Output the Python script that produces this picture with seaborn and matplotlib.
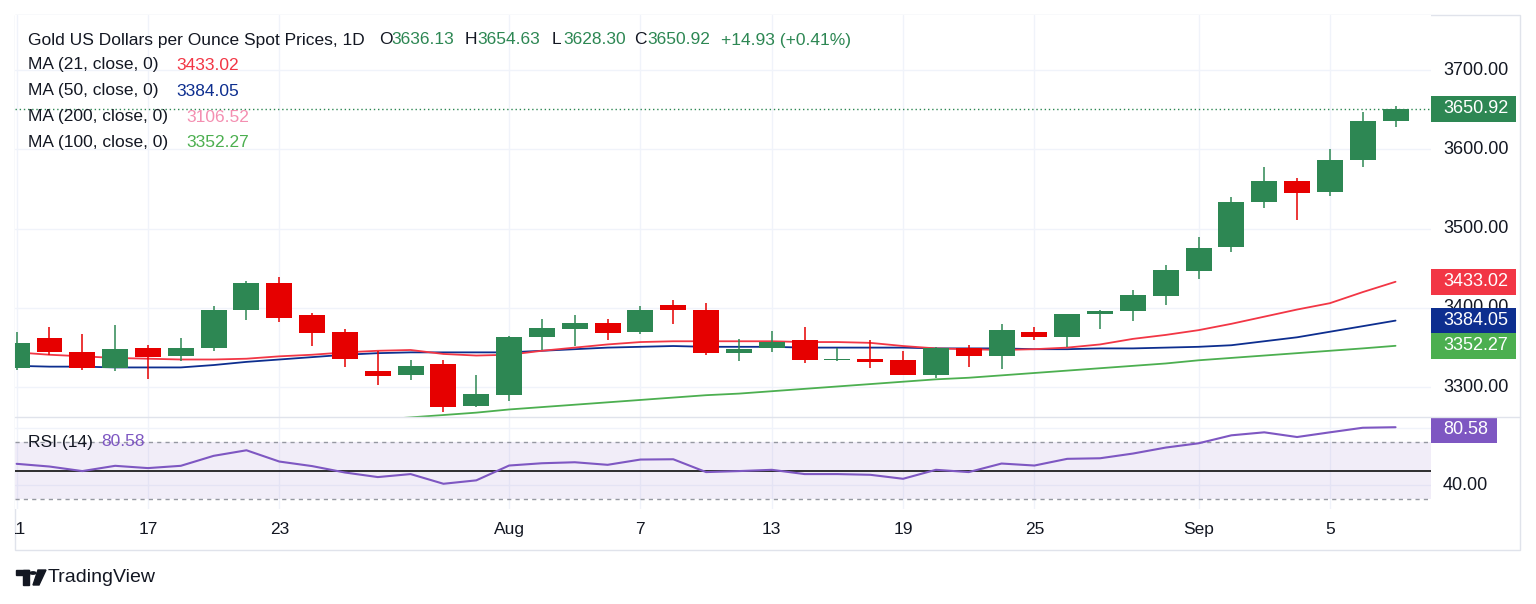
import matplotlib
matplotlib.use("Agg")
import matplotlib.pyplot as plt
import matplotlib.transforms as mtransforms
from matplotlib.patches import Rectangle, Circle, Polygon
from matplotlib.lines import Line2D
import numpy as np
import pandas as pd
import seaborn as sns

# daily candles, Jul 11 - Sep 9 2025 (trading days only)
dates = pd.bdate_range("2025-07-11", "2025-09-09")
opens = [3324, 3362, 3344, 3324, 3349, 3340, 3350, 3397, 3432, 3391, 3370, 3321, 3315, 3329, 3277,
         3290, 3364, 3374, 3381, 3370, 3404, 3398, 3343, 3349, 3359, 3334, 3336, 3334, 3316, 3350,
         3339, 3370, 3364, 3392, 3396, 3415, 3447, 3477, 3533, 3560, 3546, 3586, 3636.13]
highs = [3370, 3376, 3367, 3378, 3353, 3362, 3402, 3434, 3439, 3394, 3374, 3346, 3334, 3334, 3315,
         3365, 3386, 3391, 3386, 3403, 3410, 3406, 3361, 3371, 3376, 3349, 3359, 3346, 3351, 3353,
         3380, 3376, 3393, 3398, 3423, 3454, 3489, 3540, 3578, 3564, 3600, 3647, 3654.63]
lows = [3322, 3341, 3322, 3320, 3311, 3333, 3346, 3385, 3382, 3352, 3326, 3303, 3309, 3269, 3275,
        3283, 3347, 3352, 3359, 3367, 3380, 3341, 3333, 3344, 3331, 3333, 3324, 3315, 3312, 3326,
        3323, 3359, 3351, 3374, 3384, 3404, 3437, 3470, 3526, 3511, 3541, 3578, 3628.30]
closes = [3356, 3344, 3324, 3348, 3338, 3350, 3397, 3432, 3387, 3368, 3336, 3314, 3327, 3275, 3291,
          3364, 3375, 3381, 3369, 3397, 3398, 3343, 3348, 3357, 3335, 3336, 3332, 3316, 3349, 3339,
          3372, 3364, 3392, 3396, 3416, 3448, 3476, 3533, 3560, 3545, 3587, 3635.99, 3650.92]

ma21 = [3344, 3341, 3339, 3337, 3336, 3335, 3335, 3336, 3339, 3341, 3344, 3346, 3347, 3342, 3340,
        3341, 3346, 3350, 3354, 3357, 3358, 3358, 3358, 3358, 3357, 3357, 3356, 3352, 3349, 3348,
        3347, 3348, 3350, 3354, 3361, 3366, 3372, 3380, 3389, 3398, 3406, 3420, 3433.02]
ma50 = [3327, 3326, 3326, 3325, 3325, 3325, 3328, 3332, 3335, 3338, 3341, 3343, 3344, 3344, 3344,
        3344, 3346, 3348, 3350, 3351, 3352, 3351, 3351, 3351, 3350, 3350, 3350, 3350, 3349, 3349,
        3349, 3348, 3348, 3349, 3349, 3350, 3351, 3353, 3358, 3363, 3370, 3377, 3384.05]
ma100 = [3227, 3230, 3233, 3236, 3239, 3242, 3245, 3248, 3251, 3254, 3256, 3259, 3262, 3265, 3268,
         3272, 3275, 3278, 3281, 3284, 3287, 3290, 3292, 3295, 3298, 3301, 3304, 3307, 3310, 3312,
         3315, 3318, 3321, 3324, 3327, 3330, 3334, 3337, 3340, 3343, 3346, 3349, 3352.27]
rsi = [54.9, 53.0, 49.8, 53.5, 51.9, 53.5, 60.5, 64.4, 56.5, 53.3, 48.8, 45.6, 47.7, 40.9, 43.3,
       53.7, 55.3, 56.0, 54.2, 57.9, 58.1, 49.1, 49.8, 50.7, 47.7, 47.7, 47.2, 44.4, 50.7, 49.1,
       55.1, 53.7, 58.4, 58.8, 62.1, 66.3, 69.3, 74.9, 77.0, 73.7, 77.0, 80.2, 80.58]

tick_dates = ["2025-07-11", "2025-07-17", "2025-07-23", "2025-08-01", "2025-08-07",
              "2025-08-13", "2025-08-19", "2025-08-25", "2025-09-01", "2025-09-05"]
tick_labels = ["11", "17", "23", "Aug", "7", "13", "19", "25", "Sep", "5"]
price_ticks = [3300, 3400, 3500, 3600, 3700]

df = pd.DataFrame({"date": dates, "open": opens, "high": highs, "low": lows, "close": closes,
                   "ma21": ma21, "ma50": ma50, "ma100": ma100, "rsi": rsi})
df["i"] = np.arange(len(df))
tick_idx = [int(np.where(df["date"] == pd.Timestamp(d))[0][0]) for d in tick_dates]

UP, DOWN = "#2d8753", "#e60000"
C21, C50, C100, C200 = "#f23645", "#0d2e8f", "#4caf50", "#f48fb1"
PURPLE = "#7e57c2"
TXT = "#131722"
GRID = "#f0f3fa"

sns.set_theme(style="white")
plt.rcParams["font.family"] = ["Liberation Sans", "DejaVu Sans"]

W, H = 1536, 604
fig = plt.figure(figsize=(W / 100, H / 100), dpi=100)
fig.patch.set_facecolor("white")


def fx(px):
    return px / W


def fy(py):
    return 1 - py / H


def add_pane(left, top, right, bottom):
    a = fig.add_axes([fx(left), fy(bottom), (right - left) / W, (bottom - top) / H])
    for s in a.spines.values():
        s.set_visible(False)
    a.tick_params(length=0, labelbottom=False, labelleft=False)
    a.set_xlabel("")
    a.set_ylabel("")
    return a


XL, XR = 15, 1431
XLIM = (-0.05, 43.08)
ax = add_pane(XL, 15, XR, 417)
ax_rsi = add_pane(XL, 417, XR, 509)
ax_t = add_pane(XL, 509, XR, 550)
ax_t.set_xlim(*XLIM)
ax_t.set_ylim(0, 1)
ax_t.patch.set_alpha(0)

# ---- price pane ----
colors = [UP if c >= o else DOWN for o, c in zip(df["open"], df["close"])]
body = np.maximum(np.abs(df["close"] - df["open"]), 1.0)
ax.vlines(df["i"], df["low"], df["high"], colors=colors, lw=1.1, zorder=3)
ax.bar(df["i"], body, bottom=np.minimum(df["open"], df["close"]), width=0.79,
       color=colors, linewidth=0, zorder=4)
sns.lineplot(data=df, x="i", y="ma100", ax=ax, color=C100, lw=1.3, legend=False, zorder=2)
sns.lineplot(data=df, x="i", y="ma50", ax=ax, color=C50, lw=1.3, legend=False, zorder=2)
sns.lineplot(data=df, x="i", y="ma21", ax=ax, color=C21, lw=1.3, legend=False, zorder=2)
ax.axhline(df["close"].iloc[-1], color=UP, ls=(0, (1, 2)), lw=1.0, zorder=1)
ax.set_xlim(*XLIM)
ax.set_ylim(3262.5, 3769.4)
ax.set_xticks(tick_idx)
ax.set_yticks(price_ticks)
ax.grid(True, color=GRID, lw=1)
ax.set_axisbelow(True)
ax.set_xlabel("")
ax.set_ylabel("")

# ---- RSI pane ----
ax_rsi.axhspan(30, 70, color=PURPLE, alpha=0.1, lw=0)
sns.lineplot(data=df, x="i", y="rsi", ax=ax_rsi, color=PURPLE, lw=1.5, legend=False, zorder=3)
ax_rsi.axhline(70, color="#9598a1", ls=(0, (3, 3)), lw=1)
ax_rsi.axhline(30, color="#9598a1", ls=(0, (3, 3)), lw=1)
ax_rsi.axhline(50, color="#1e1e1e", lw=1.3)
ax_rsi.set_xlim(*XLIM)
ax_rsi.set_ylim(23.2, 87.75)
ax_rsi.set_xticks(tick_idx)
ax_rsi.set_yticks([40, 80])
ax_rsi.grid(True, color=GRID, lw=1)
ax_rsi.set_axisbelow(True)
ax_rsi.set_xlabel("")
ax_rsi.set_ylabel("")

# ---- time axis ----
for i, lab in zip(tick_idx, tick_labels):
    ax_t.text(i, 0.5, lab, ha="center", va="center", fontsize=12.5, color=TXT, clip_on=True)

# ---- right scale ----
AXW = XR - XL


def scale_label(a, value, text):
    tr = mtransforms.blended_transform_factory(a.transAxes, a.transData)
    a.text(1 + 12 / AXW, value, text, transform=tr, ha="left", va="center",
           fontsize=13, color=TXT, clip_on=False, zorder=4)


def tag(a, value, text, bg, px_per_unit, width_px=85):
    tr = mtransforms.blended_transform_factory(a.transAxes, a.transData)
    half = 13 / px_per_unit
    top = a.get_ylim()[1]
    y = min(value, top - half)
    a.add_patch(Rectangle((1.0, y - half), width_px / AXW, 2 * half, transform=tr,
                          facecolor=bg, edgecolor="none", clip_on=False, zorder=5))
    a.text(1 + 12 / AXW, y, text, transform=tr, ha="left", va="center",
           fontsize=13, color="white", clip_on=False, zorder=6)


for p in price_ticks:
    scale_label(ax, p, f"{p:.2f}")
scale_label(ax_rsi, 40, "40.00")

PPU = 402 / (3769.4 - 3262.5)
tag(ax, df["close"].iloc[-1], f"{df['close'].iloc[-1]:.2f}", UP, PPU)
tag(ax, df["ma21"].iloc[-1], f"{df['ma21'].iloc[-1]:.2f}", C21, PPU)
tag(ax, df["ma50"].iloc[-1], f"{df['ma50'].iloc[-1]:.2f}", C50, PPU)
tag(ax, df["ma100"].iloc[-1], f"{df['ma100'].iloc[-1]:.2f}", C100, PPU)
tag(ax_rsi, df["rsi"].iloc[-1], f"{df['rsi'].iloc[-1]:.2f}", PURPLE, 92 / (87.75 - 23.2), width_px=66)

# ---- frame ----
frame = Rectangle((fx(15), fy(550)), (1520 - 15) / W, (550 - 15) / H, transform=fig.transFigure,
                  fill=False, edgecolor="#e0e3eb", lw=1, zorder=0)
fig.add_artist(frame)
fig.add_artist(Line2D([fx(15), fx(1520)], [fy(417), fy(417)], transform=fig.transFigure,
                      color="#e0e3eb", lw=1))

# ---- legend texts ----
def ftext(x, y, s, color=TXT, size=12.5, **kw):
    fig.text(fx(x), fy(y), s, color=color, fontsize=size, ha="left", va="center", **kw)


last = df.iloc[-1]
prev_close = df["close"].iloc[-2]
chg = last["close"] - prev_close
ftext(28, 40, "Gold US Dollars per Ounce Spot Prices, 1D")
for x_lab, x_val, lab, val in [(379, 391, "O", last["open"]), (465, 477, "H", last["high"]),
                               (552, 563, "L", last["low"]), (634, 647, "C", last["close"])]:
    ftext(x_lab, 40, lab)
    ftext(x_val, 40, f"{val:.2f}", color=UP)
ftext(721, 40, f"+{chg:.2f} (+{chg / prev_close * 100:.2f}%)", color=UP)

ftext(28, 65, "MA (21, close, 0)")
ftext(176, 65, f"{ma21[-1]:.2f}", color=C21)
ftext(28, 91, "MA (50, close, 0)")
ftext(176, 91, f"{ma50[-1]:.2f}", color=C50)
ftext(28, 117, "MA (200, close, 0)")
ftext(186, 117, "3106.52", color=C200)
ftext(28, 143, "MA (100, close, 0)")
ftext(186, 143, f"{ma100[-1]:.2f}", color=C100)

ftext(28, 442, "RSI (14)")
ftext(101, 442, f"{rsi[-1]:.2f}", color=PURPLE)

# ---- TradingView logo ----
fig.add_artist(Rectangle((fx(16), fy(575)), 13 / W, 5 / H, transform=fig.transFigure, color=TXT))
fig.add_artist(Rectangle((fx(23), fy(585)), 6 / W, 15 / H, transform=fig.transFigure, color=TXT))
fig.add_artist(Circle((fx(33), fy(573)), 3 / W, transform=fig.transFigure, color=TXT))
fig.add_artist(Polygon([[fx(38), fy(570)], [fx(46), fy(570)], [fx(39), fy(585)], [fx(33), fy(585)]],
                       closed=True, transform=fig.transFigure, color=TXT))
ftext(48, 578, "TradingView", size=14)

fig.savefig("out.png", dpi=100)
